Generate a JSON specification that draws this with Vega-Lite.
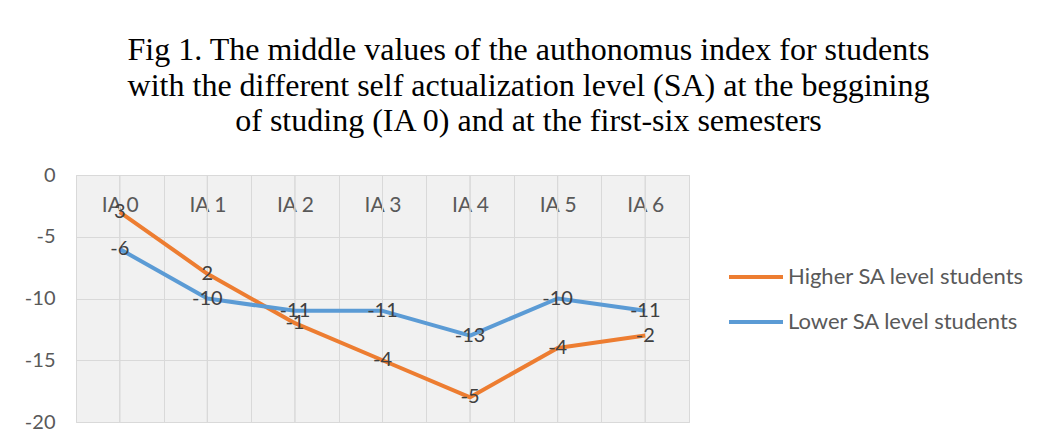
{
  "$schema": "https://vega.github.io/schema/vega-lite/v6.json",
  "width": 613,
  "height": 247,
  "autosize": {"type": "none"},
  "padding": {"left": 76, "top": 175, "right": 362, "bottom": 24},
  "background": "white",
  "title": {
    "text": ["Fig 1. The middle values of the authonomus index for students", "with the different self actualization level (SA) at the beggining", "of studing (IA 0) and at the first-six semesters"],
    "font": "Liberation Serif",
    "fontSize": 32,
    "fontWeight": "normal",
    "color": "#000000",
    "anchor": "middle",
    "dx": 146,
    "lineHeight": 35.5,
    "offset": 27
  },
  "data": {
    "values": [
      {"period": "IA 0", "series": "Higher SA level students", "value": -3, "label": "3"},
      {"period": "IA 1", "series": "Higher SA level students", "value": -8, "label": "2"},
      {"period": "IA 2", "series": "Higher SA level students", "value": -12, "label": "-1"},
      {"period": "IA 3", "series": "Higher SA level students", "value": -15, "label": "-4"},
      {"period": "IA 4", "series": "Higher SA level students", "value": -18, "label": "-5"},
      {"period": "IA 5", "series": "Higher SA level students", "value": -14, "label": "-4"},
      {"period": "IA 6", "series": "Higher SA level students", "value": -13, "label": "-2"},
      {"period": "IA 0", "series": "Lower SA level students", "value": -6, "label": "-6"},
      {"period": "IA 1", "series": "Lower SA level students", "value": -10, "label": "-10"},
      {"period": "IA 2", "series": "Lower SA level students", "value": -11, "label": "-11"},
      {"period": "IA 3", "series": "Lower SA level students", "value": -11, "label": "-11"},
      {"period": "IA 4", "series": "Lower SA level students", "value": -13, "label": "-13"},
      {"period": "IA 5", "series": "Lower SA level students", "value": -10, "label": "-10"},
      {"period": "IA 6", "series": "Lower SA level students", "value": -11, "label": "-11"}
    ]
  },
  "encoding": {
    "x": {
      "field": "period",
      "type": "nominal",
      "sort": null,
      "bandPosition": 0.5,
      "scale": {"type": "band", "paddingInner": 0, "paddingOuter": 0},
      "axis": {
        "orient": "top",
        "title": null,
        "ticks": false,
        "domain": false,
        "tickBand": "extent",
        "labelPadding": -30,
        "labelBaseline": "middle",
        "labelAngle": 0,
        "labelFont": "Lato",
        "labelFontSize": 21,
        "labelColor": "#595959",
        "grid": true,
        "gridColor": "#d9d9d9"
      }
    }
  },
  "layer": [
    {
      "mark": {"type": "rule", "color": "#d9d9d9", "strokeWidth": 1},
      "encoding": {}
    },
    {
      "mark": {"type": "line", "strokeWidth": 4, "strokeJoin": "round"},
      "encoding": {
        "y": {
          "field": "value",
          "type": "quantitative",
          "scale": {"domain": [-20, 0], "nice": false},
          "axis": {
            "values": [0, -5, -10, -15, -20],
            "labelExpr": "datum.value == 0 ? '0' : '-' + abs(datum.value)",
            "title": null,
            "domain": false,
            "ticks": false,
            "labelPadding": 21,
            "labelFont": "Lato",
            "labelFontSize": 20,
            "labelColor": "#595959",
            "gridColor": "#d9d9d9"
          }
        },
        "color": {
          "field": "series",
          "type": "nominal",
          "scale": {"domain": ["Higher SA level students", "Lower SA level students"], "range": ["#ED7D31", "#5B9BD5"]},
          "legend": {
            "orient": "none",
            "legendX": 651,
            "legendY": 73,
            "title": null,
            "symbolType": "stroke",
            "symbolStrokeWidth": 4,
            "symbolSize": 2916,
            "labelFont": "Lato",
            "labelFontSize": 22,
            "labelLimit": 400,
            "labelColor": "#595959",
            "labelOffset": 3,
            "rowPadding": 5,
            "padding": 0
          }
        }
      }
    },
    {
      "mark": {"type": "text", "font": "Lato", "fontSize": 20, "color": "#404040", "baseline": "middle", "align": "center"},
      "encoding": {
        "y": {"field": "value", "type": "quantitative"},
        "text": {"field": "label"}
      }
    }
  ],
  "config": {
    "view": {"stroke": "#d9d9d9", "fill": "#f1f1f1"}
  }
}
